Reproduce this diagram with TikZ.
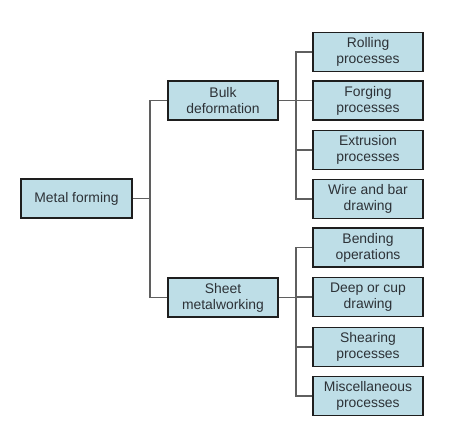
\documentclass[tikz,border=0pt]{standalone}
\usepackage{fontspec}
\setmainfont{Liberation Sans}
\definecolor{boxfill}{RGB}{190,222,231}
\definecolor{boxline}{RGB}{30,30,30}
\definecolor{conn}{RGB}{95,95,95}
\definecolor{txt}{RGB}{45,50,55}
\begin{document}
\begin{tikzpicture}[x=1pt,y=-1pt,
  box/.style={draw=boxline,line width=1.6pt,fill=boxfill,minimum width=110pt,minimum height=39pt,
    inner sep=0pt,align=center,text=txt,font=\fontsize{13.9}{16}\selectfont},
  wire/.style={draw=conn,line width=1.1pt}]
\useasboundingbox (0,0) rectangle (474,438);
\node[box,minimum width=111pt] (mf) at (76.5,198.5) {Metal forming};
\node[box] (bulk) at (223,100.5) {Bulk\\deformation};
\node[box] (sheet) at (223,297.5) {Sheet\\metalworking};
\node[box] (roll) at (368,52) {Rolling\\processes};
\node[box] (forg) at (368,100.5) {Forging\\processes};
\node[box] (extr) at (368,150) {Extrusion\\processes};
\node[box] (wire) at (368,199) {Wire and bar\\drawing};
\node[box] (bend) at (368,247.5) {Bending\\operations};
\node[box] (deep) at (368,297) {Deep or cup\\drawing};
\node[box] (shear) at (368,347) {Shearing\\processes};
\node[box] (misc) at (368,396) {Miscellaneous\\processes};
\coordinate (j1) at (150,198.5);
\coordinate (j2) at (296,100.5);
\coordinate (j3) at (296,297.5);
\draw[wire] (mf.east) -- (j1);
\draw[wire] (bulk.west) -| (j1) |- (sheet.west);
\draw[wire] (bulk.east) -- (forg.west);
\draw[wire] (roll.west) -| (j2) |- (wire.west);
\draw[wire] (j2 |- extr.west) -- (extr.west);
\draw[wire] (sheet.east) -- (j3);
\draw[wire] (bend.west) -| (j3) |- (misc.west);
\draw[wire] (j3 |- shear.west) -- (shear.west);
\draw[wire] (j3 |- deep.west) -- (deep.west);
\end{tikzpicture}
\end{document}
